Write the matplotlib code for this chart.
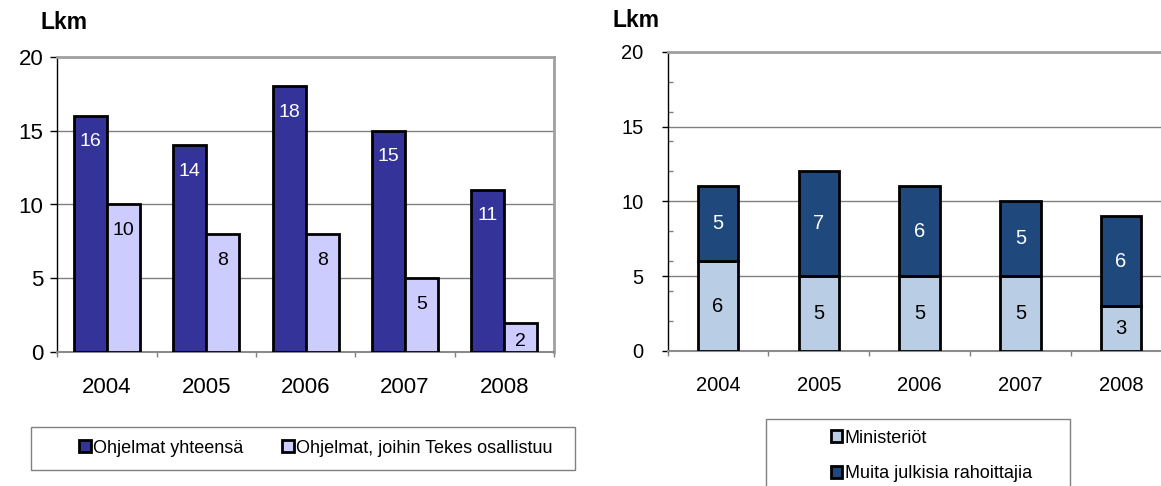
import numpy as np
import matplotlib
matplotlib.use('Agg')
import matplotlib.pyplot as plt
from matplotlib.patches import Rectangle

plt.rcParams['font.family'] = ['Liberation Sans', 'DejaVu Sans']

# ---- data ----
years = ['2004', '2005', '2006', '2007', '2008']
total_programs = [16, 14, 18, 15, 11]
tekes_programs = [10, 8, 8, 5, 2]
ministries = [6, 5, 5, 5, 3]
other_public = [5, 7, 6, 5, 6]

label_total = 'Ohjelmat yhteensä'
label_tekes = 'Ohjelmat, joihin Tekes osallistuu'
label_min = 'Ministeriöt'
label_other = 'Muita julkisia rahoittajia'
y_title = 'Lkm'

W, H = 1161, 486
fig = plt.figure(figsize=(W / 100, H / 100), dpi=100)


def ax_rect(l, t, r, b):
    return [l / W, 1 - b / H, (r - l) / W, (b - t) / H]


def style_axes(ax, tick_size, ytick_pad, ytick_len):
    ax.set_xlim(-0.5, len(years) - 0.5)
    ax.set_ylim(0, 20)
    x = np.arange(len(years))
    ax.set_xticks(x)
    ax.set_xticklabels(years)
    ax.set_xticks(np.arange(-0.5, len(years), 1), minor=True)
    ax.tick_params(axis='x', which='major', length=0, pad=18, labelsize=tick_size)
    ax.tick_params(axis='x', which='minor', length=3.6, width=1, color='#808080',
                   direction='out')
    ax.set_yticks([0, 5, 10, 15, 20])
    ax.tick_params(axis='y', which='major', length=ytick_len, width=1,
                   pad=ytick_pad, labelsize=tick_size, color='black', direction='out')
    ax.yaxis.grid(True, color='#808080', lw=1)
    ax.set_axisbelow(True)
    ax.spines['left'].set_color('black')
    ax.spines['left'].set_linewidth(1)
    ax.spines['top'].set_color('#a0a0a0')
    ax.spines['top'].set_linewidth(2)
    ax.spines['right'].set_color('#a0a0a0')
    ax.spines['right'].set_linewidth(2)
    ax.spines['bottom'].set_color('#8c8c8c')
    ax.spines['bottom'].set_linewidth(1.5)


# ---- left chart ----
ax1 = fig.add_axes(ax_rect(57.3, 56.7, 554, 352.3))
x = np.arange(len(years))
bw = 1 / 3
b1 = ax1.bar(x - bw / 2, total_programs, bw, color='#333399', edgecolor='black',
             lw=2, label=label_total, zorder=3)
b2 = ax1.bar(x + bw / 2, tekes_programs, bw, color='#CCCCFF', edgecolor='black',
             lw=2, label=label_tekes, zorder=3)
style_axes(ax1, 16, 5, 5)

for xi, v in zip(x, total_programs):
    ax1.text(xi - bw / 2, max(v - 1.76, 0.72), str(v), ha='center', va='center',
             color='white', fontsize=14, zorder=4)
for xi, v in zip(x, tekes_programs):
    ax1.text(xi + bw / 2, max(v - 1.76, 0.72), str(v), ha='center', va='center',
             color='black', fontsize=14, zorder=4)

fig.text(40 / W, 1 - 29.3 / H, y_title, ha='left', va='baseline',
         fontsize=16.5, fontweight='bold')

leg1 = fig.legend(handles=[b1, b2], labels=[label_total, label_tekes],
                  loc='center left', bbox_to_anchor=(70 / W, 1 - 448.3 / H),
                  ncol=2, frameon=False, fontsize=13, borderpad=0,
                  handlelength=0.64, handleheight=0.64, handletextpad=0.13,
                  columnspacing=2.16)
fig.add_artist(Rectangle((31 / W, 1 - 470 / H), 544 / W, 42.7 / H,
                         transform=fig.transFigure, fill=False,
                         edgecolor='#808080', lw=1))

# ---- right chart ----
ax2 = fig.add_axes(ax_rect(667.7, 51.7, 1171.5, 351))
bw2 = 0.4
c1 = ax2.bar(x, ministries, bw2, color='#B9CDE5', edgecolor='black', lw=2,
             label=label_min, zorder=3)
c2 = ax2.bar(x, other_public, bw2, bottom=ministries, color='#1F497D',
             edgecolor='black', lw=2, label=label_other, zorder=3)
style_axes(ax2, 14.5, 13.2, 4.3)
ax2.set_yticks(np.arange(2, 20, 2), minor=True)
ax2.tick_params(axis='y', which='minor', length=3.6, width=1, color='#808080',
                direction='in')
ax2.bar_label(c1, labels=[str(v) for v in ministries], label_type='center',
              fontsize=14.5, color='black', zorder=4)
ax2.bar_label(c2, labels=[str(v) for v in other_public], label_type='center',
              fontsize=14.5, color='white', zorder=4)

fig.text(612.7 / W, 1 - 26.7 / H, y_title, ha='left', va='baseline',
         fontsize=16.5, fontweight='bold')

leg2 = fig.legend(handles=[c1, c2], labels=[label_min, label_other],
                  loc='center left', bbox_to_anchor=(821.7 / W, 1 - 456 / H),
                  ncol=1, frameon=False, fontsize=13, borderpad=0,
                  handlelength=0.64, handleheight=0.64, handletextpad=0.13,
                  labelspacing=1.05)
fig.add_artist(Rectangle((765.7 / W, 1 - 500 / H), 304.3 / W, 80.7 / H,
                         transform=fig.transFigure, fill=False,
                         edgecolor='#808080', lw=1))

fig.savefig('out.png', dpi=100)
